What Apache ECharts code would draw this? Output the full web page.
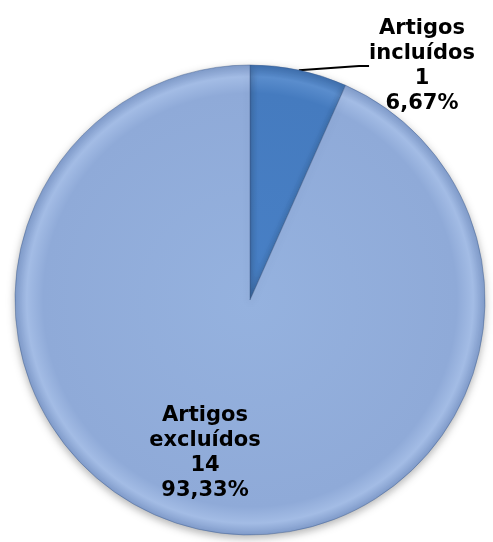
<!DOCTYPE html>
<html>
<head>
<meta charset="utf-8">
<script src="https://cdn.jsdelivr.net/npm/echarts@6/dist/echarts.min.js"></script>
<style>
html,body{margin:0;padding:0;background:#fff;}
#c{width:493px;height:542px;}
</style>
</head>
<body>
<div id="c"></div>
<script>
var categories = ['Artigos\nincluídos', 'Artigos\nexcluídos'];
var values = [1, 14];
var percentLabels = ['6,67%', '93,33%'];

function grad(inner, outer, rim, edge) {
  return {
    type: 'radial', x: 250, y: 300, r: 235, global: true,
    colorStops: [
      {offset: 0, color: inner},
      {offset: 0.88, color: outer},
      {offset: 0.95, color: rim},
      {offset: 1, color: edge}
    ]
  };
}
var sliceColors = [
  grad('#4880c6', '#457bbf', '#5a8dcd', '#3e6fae'),
  grad('#95b2df', '#8faad8', '#a3bce5', '#819ccb')
];

var chart = echarts.init(document.getElementById('c'));
chart.setOption({
  animation: false,
  series: [{
    type: 'pie',
    center: [250, 300],
    radius: [0, 235],
    startAngle: 90,
    clockwise: true,
    avoidLabelOverlap: false,
    itemStyle: {
      borderColor: 'rgba(60,90,140,0.45)',
      borderWidth: 1,
      shadowBlur: 8,
      shadowColor: 'rgba(0,0,0,0.3)',
      shadowOffsetY: 3
    },
    label: {
      fontFamily: 'DejaVu Sans',
      fontWeight: 'bold',
      fontSize: 21,
      lineHeight: 25,
      color: '#000',
      align: 'center',
      formatter: function (p) {
        return p.name + '\n' + p.value + '\n' + percentLabels[p.dataIndex];
      }
    },
    labelLine: {
      show: true,
      lineStyle: {color: '#000', width: 2},
      length: 20,
      length2: 10
    },
    labelLayout: function (p) {
      if (p.dataIndex === 0) {
        return {x: 422, y: 66, align: 'center', verticalAlign: 'middle'};
      }
      return {x: 205, y: 453, align: 'center', verticalAlign: 'middle'};
    },
    data: categories.map(function (c, i) {
      return {
        name: c,
        value: values[i],
        itemStyle: {color: sliceColors[i]},
        label: {position: i === 0 ? 'outside' : 'inside'},
        labelLine: {show: i === 0}
      };
    })
  }]
});
</script>
</body>
</html>
